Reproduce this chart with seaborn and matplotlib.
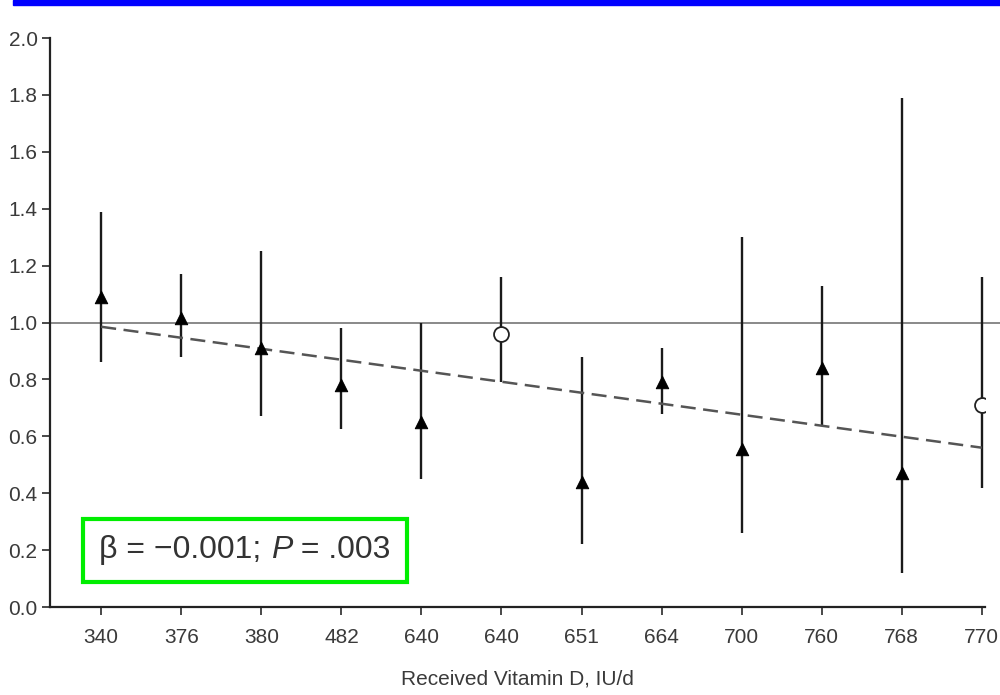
import numpy as np
import pandas as pd
import seaborn as sns
import matplotlib.pyplot as plt
from matplotlib.offsetbox import TextArea, HPacker, AnchoredOffsetbox

# received vitamin D per site (IU/d), in plotted order
doses = ["340", "376", "380", "482", "640", "640", "651", "664", "700", "760", "768", "770"]
estimate = [1.09, 1.015, 0.91, 0.78, 0.65, 0.96, 0.44, 0.79, 0.555, 0.84, 0.47, 0.71]
ci_low = [0.86, 0.88, 0.67, 0.625, 0.45, 0.79, 0.22, 0.68, 0.26, 0.64, 0.12, 0.42]
ci_high = [1.39, 1.17, 1.25, 0.98, 1.0, 1.16, 0.88, 0.91, 1.30, 1.13, 1.79, 1.16]
marker_kind = ["tri", "tri", "tri", "tri", "tri", "circ", "tri", "tri", "tri", "tri", "tri", "circ"]
trend_ends = [0.985, 0.56]

df = pd.DataFrame({"pos": np.arange(len(doses)), "est": estimate,
                   "lo": ci_low, "hi": ci_high, "kind": marker_kind})

sns.set_style("ticks")
plt.rcParams["font.family"] = ["Liberation Sans Narrow", "Liberation Sans", "DejaVu Sans"]

fig = plt.figure(figsize=(10, 6.95), dpi=100)
ax = fig.add_axes([0.05, 0.1266, 0.935, 0.8187])

# blue band on top
fig.patches.append(plt.Rectangle((0.013, 0.993), 0.987, 0.007, transform=fig.transFigure,
                                 color="#0000ff", zorder=5))

ax.axhline(1.0, color="#808080", lw=1.3, xmax=1.016, clip_on=False, zorder=1)
ax.vlines(df["pos"], df["lo"], df["hi"], color="#1a1a1a", lw=1.7, zorder=2)
ax.plot([df["pos"].iloc[0], df["pos"].iloc[-1]], trend_ends, ls=(0, (6, 3)),
        color="#555555", lw=1.8, zorder=3)

tri = df[df["kind"] == "tri"]
circ = df[df["kind"] == "circ"]
sns.scatterplot(data=tri, x="pos", y="est", marker="^", s=80, color="black",
                edgecolor="black", ax=ax, zorder=4)
sns.scatterplot(data=circ, x="pos", y="est", marker="o", s=115, color="white",
                edgecolor="#222222", linewidth=1.3, ax=ax, zorder=4)

ax.set_xlim(-0.64, 11.04)
ax.set_ylim(0, 2.0)
ax.set_xticks(df["pos"])
ax.set_xticklabels(doses)
yt = np.arange(0, 2.01, 0.2)
ax.set_yticks(yt)
ax.set_yticklabels([f"{v:.1f}" for v in yt])
ax.tick_params(axis="both", labelsize=15, colors="#3a3a3a", width=1.3, length=6)
ax.tick_params(axis="x", pad=9)
ax.tick_params(axis="y", pad=3)
for s in ["left", "bottom"]:
    ax.spines[s].set_linewidth(1.6)
    ax.spines[s].set_color("#222222")
sns.despine(ax=ax)
ax.set_xlabel("Received Vitamin D, IU/d", fontsize=15, color="#3a3a3a", labelpad=16)
ax.set_ylabel("")

# annotation box: beta and P value
tprops = dict(fontsize=23, color="#333333", family=["Liberation Sans", "DejaVu Sans"])
parts = [TextArea("β = −0.001; ", textprops=tprops),
         TextArea("P", textprops=dict(tprops, style="italic")),
         TextArea(" = .003", textprops=tprops)]
box = AnchoredOffsetbox(loc="lower left", child=HPacker(children=parts, pad=0, sep=0),
                        bbox_to_anchor=(0.035, 0.044), bbox_transform=ax.transAxes,
                        borderpad=0, pad=1.2, frameon=True, prop=dict(size=10))
box.patch.set_edgecolor("#00ee00")
box.patch.set_linewidth(3)
box.patch.set_boxstyle("square", pad=0)
ax.add_artist(box)

fig.savefig("out.png", dpi=100)
